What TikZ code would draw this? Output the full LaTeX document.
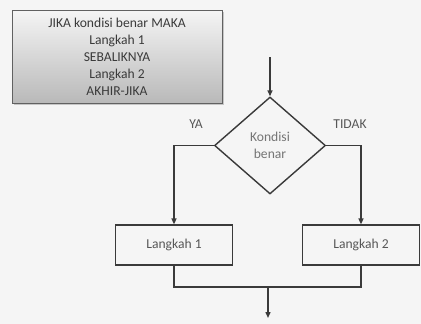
\documentclass[tikz,border=0pt]{standalone}
\usepackage{fontspec}
\setmainfont{Carlito}
\usetikzlibrary{arrows.meta,shapes.geometric,shadows}
\definecolor{bg}{HTML}{F5F5F5}
\definecolor{ln}{HTML}{3A3A3A}
\begin{document}
\begin{tikzpicture}[x=1pt,y=-1pt,
  txt/.style={font=\fontsize{13.6}{17}\selectfont,text=ln!85},
  flow/.style={draw=ln,line width=1.4pt},
  arr/.style={flow,-{Triangle[length=6pt,width=5pt]}},
  stepbox/.style={draw=ln,line width=1.2pt,fill=bg,minimum width=117pt,minimum height=40pt,inner sep=0pt,txt},
  decision/.style={draw=ln,line width=1.4pt,fill=bg,diamond,minimum width=111pt,minimum height=97pt,inner sep=0pt,align=center,txt,text=ln!70,aspect=1.15}
]
\fill[bg] (0,0) rectangle (421,324);
\useasboundingbox (0,0) rectangle (421,324);
\node[draw=ln!80,line width=1pt,top color=gray!8,bottom color=gray!55,minimum width=210pt,minimum height=93pt,inner sep=0pt,align=center,txt,text=ln,drop shadow={shadow xshift=1.5pt,shadow yshift=-1.5pt,opacity=0.4}] (code) at (117,56.5) {JIKA kondisi benar MAKA\\Langkah 1\\SEBALIKNYA\\Langkah 2\\AKHIR-JIKA};
\coordinate (start) at (270,57);
\node[decision] (cond) at (270,145.5) {Kondisi\\benar};
\node[stepbox] (s1) at (174,245) {Langkah 1};
\node[stepbox] (s2) at (361,245) {Langkah 2};
\coordinate (join) at (268,287);
\coordinate (end) at (268,318);
\draw[arr] (start) -- (cond.north);
\draw[arr] (cond.west) -| (s1.north);
\draw[arr] (cond.east) -| (s2.north);
\draw[flow] (s1.south) |- (join) -| (s2.south);
\draw[arr] (join) -- (end);
\node[txt] (ya) at (196,124) {YA};
\node[txt] (tidak) at (350,124) {TIDAK};
\end{tikzpicture}
\end{document}
